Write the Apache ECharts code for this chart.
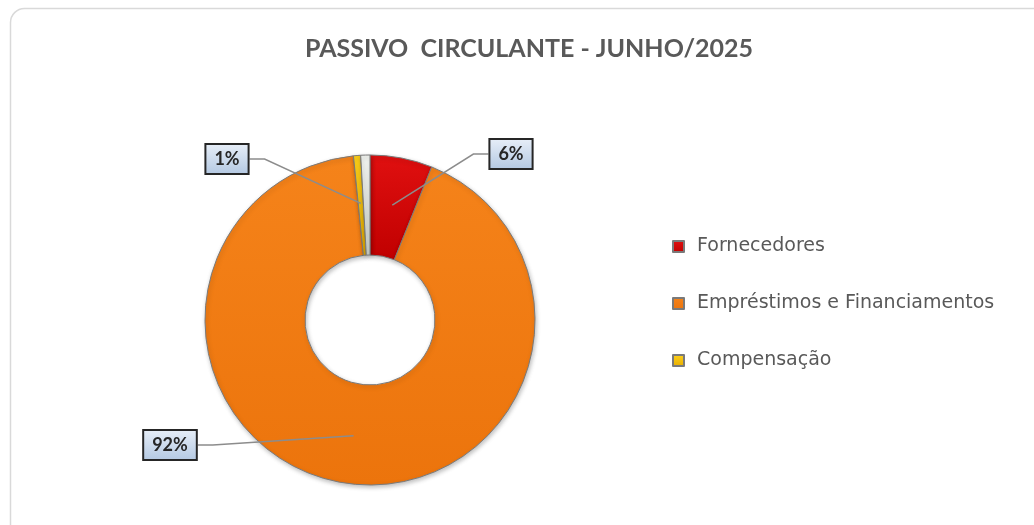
<!DOCTYPE html>
<html>
<head>
<meta charset="utf-8">
<script src="https://cdn.jsdelivr.net/npm/echarts@6/dist/echarts.min.js"></script>
<style>
html,body{margin:0;padding:0;background:#fff;}
#chart{width:1034px;height:525px;}
</style>
</head>
<body>
<div id="chart"></div>
<script>
const titleText = 'PASSIVO  CIRCULANTE - JUNHO/2025';
const categories = ['Fornecedores', 'Empréstimos e Financiamentos', 'Compensação', 'Outros'];
const values = [6.1, 92.3, 0.7, 0.9];
const labelTexts = ['6%', '92%', '1%', ''];
const legendNames = ['Fornecedores', 'Empréstimos e Financiamentos', 'Compensação'];

const sliceColors = [
  ['#e01010', '#c00000'],
  ['#f5831a', '#ec740c'],
  ['#ffd21a', '#e6ac00'],
  ['#f2f4f0', '#c9cfc8']
];
const labelPos = [[511, 154], [170, 445], [227, 159], null];

const chart = echarts.init(document.getElementById('chart'), null, {renderer: 'canvas'});
const grad = (c) => new echarts.graphic.LinearGradient(0, 0, 0, 1, [{offset: 0, color: c[0]}, {offset: 1, color: c[1]}]);

const pieData = categories.map((n, i) => ({name: n, value: values[i]}));

const option = {
  backgroundColor: '#ffffff',
  animation: false,
  graphic: [{
    type: 'rect', silent: true, z: -10,
    shape: {x: 10.5, y: 8.5, width: 1040, height: 530, r: 14},
    style: {fill: '#ffffff', stroke: '#d9d9d9', lineWidth: 1.5}
  }],
  title: {
    text: titleText,
    left: 524, top: 31, textAlign: 'center',
    textStyle: {fontFamily: 'Lato', fontWeight: 'bold', fontSize: 25, color: '#595959'}
  },
  legend: {
    orient: 'vertical',
    left: 667, top: 232,
    itemWidth: 11, itemHeight: 11, itemGap: 38,
    icon: 'rect',
    data: legendNames,
    textStyle: {fontFamily: 'DejaVu Sans', fontSize: 19, color: '#595959', padding: [0, 0, 0, 8]}
  },
  series: [{
    type: 'pie',
    center: [370, 320],
    radius: [65, 165],
    startAngle: 90,
    clockwise: true,
    silent: true,
    data: pieData.map((d, i) => ({
      name: d.name,
      value: d.value,
      itemStyle: {
        color: grad(sliceColors[i]),
        borderColor: '#7a7a7a', borderWidth: 1,
        shadowColor: 'rgba(0,0,0,0.25)', shadowBlur: 4, shadowOffsetX: 1, shadowOffsetY: 2
      }
    })),
    label: {show: false},
    labelLine: {show: false},
    emphasis: {disabled: true}
  }, {
    type: 'pie',
    center: [370, 320],
    radius: [65, 117],
    startAngle: 90,
    clockwise: true,
    silent: true,
    z: 5,
    legendHoverLink: false,
    avoidLabelOverlap: false,
    itemStyle: {color: 'rgba(0,0,0,0)', borderWidth: 0},
    data: pieData.map((d, i) => ({
      name: d.name,
      value: d.value,
      label: {show: labelTexts[i] !== ''},
      labelLine: {show: labelTexts[i] !== ''}
    })),
    label: {
      position: 'outside',
      formatter: (p) => labelTexts[p.dataIndex],
      fontFamily: 'Lato', fontWeight: 'bold', fontSize: 18, color: '#262626',
      backgroundColor: new echarts.graphic.LinearGradient(0, 0, 0, 1, [{offset: 0, color: '#e8eff8'}, {offset: 1, color: '#b3c8e2'}]),
      borderColor: '#262626', borderWidth: 2,
      padding: [6, 8, 4, 8]
    },
    labelLine: {
      show: true, length: 20, length2: 15,
      lineStyle: {color: '#8c8c8c', width: 1.5}
    },
    labelLayout: (p) => {
      const pos = labelPos[p.dataIndex];
      if (!pos) return {};
      return {x: pos[0], y: pos[1], align: 'center', verticalAlign: 'middle'};
    },
    emphasis: {disabled: true}
  }]
};
chart.setOption(option);
</script>
</body>
</html>
